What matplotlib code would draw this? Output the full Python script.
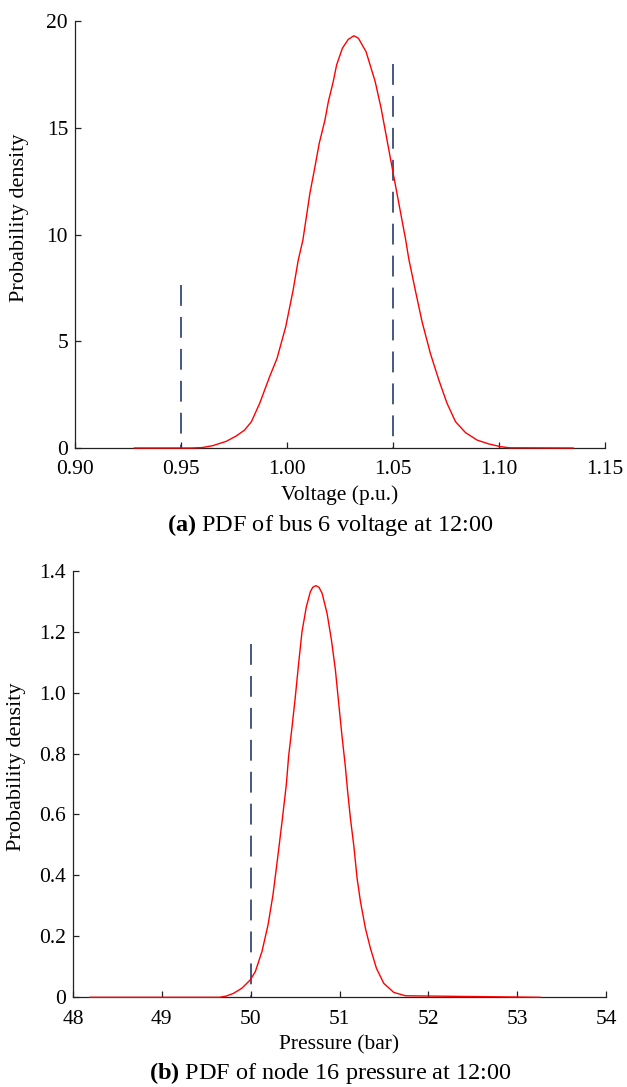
import matplotlib
matplotlib.use("Agg")
import matplotlib.pyplot as plt

plt.rcParams['font.family'] = ['Liberation Serif', 'DejaVu Serif']
plt.rcParams['mathtext.fontset'] = 'custom'
plt.rcParams['mathtext.rm'] = 'Liberation Serif'
plt.rcParams['mathtext.bf'] = 'Liberation Serif:bold'
plt.rcParams['lines.scale_dashes'] = False

# ---- Panel (a): bus 6 voltage PDF ----
volt_x = [0.928, 0.955, 0.960, 0.965, 0.9713, 0.976, 0.980, 0.9832, 0.9871, 0.9918,
          0.9953, 0.9994, 1.0029, 1.0053, 1.0075, 1.0108, 1.0132, 1.0152, 1.0179, 1.0195,
          1.0218, 1.0234, 1.0261, 1.0289, 1.0316, 1.0337, 1.0373, 1.0416, 1.0444, 1.0479,
          1.0495, 1.0526, 1.0560, 1.0574, 1.0605, 1.0637, 1.0676, 1.0716, 1.0755, 1.0795,
          1.0842, 1.0897, 1.0952, 1.1008, 1.105, 1.135]
volt_pdf = [0, 0, 0.02, 0.11, 0.31, 0.56, 0.84, 1.23, 2.09, 3.34,
            4.20, 5.68, 7.40, 8.80, 9.74, 11.93, 13.18, 14.27, 15.36, 16.22,
            17.16, 17.94, 18.72, 19.14, 19.31, 19.19, 18.56, 17.16, 15.91, 14.04,
            13.18, 11.54, 9.74, 8.88, 7.40, 5.92, 4.44, 3.19, 2.09, 1.23,
            0.72, 0.37, 0.19, 0.06, 0.01, 0]
volt_limits = [0.95, 1.05]
volt_limit_heights = [7.65, 18.0]
volt_xticks = [0.90, 0.95, 1.00, 1.05, 1.10, 1.15]
volt_xticklabels = ['0.90', '0.95', '1.00', '1.05', '1.10', '1.15']
volt_yticks = [0, 5, 10, 15, 20]

# ---- Panel (b): node 16 pressure PDF ----
pres_x = [48.19, 49.65, 49.725, 49.807, 49.902, 49.995, 50.052, 50.127, 50.195, 50.251,
          50.303, 50.353, 50.401, 50.427, 50.466, 50.503, 50.540, 50.578, 50.627, 50.672,
          50.70, 50.736, 50.77, 50.804, 50.860, 50.909, 50.954, 50.991, 51.029, 51.066,
          51.090, 51.123, 51.160, 51.198, 51.236, 51.292, 51.348, 51.416, 51.498, 51.611,
          51.743, 53.26]
pres_pdf = [0, 0, 0.004, 0.013, 0.030, 0.057, 0.084, 0.150, 0.237, 0.336,
            0.456, 0.576, 0.697, 0.790, 0.888, 0.987, 1.096, 1.200, 1.282, 1.331,
            1.346, 1.351, 1.345, 1.326, 1.260, 1.173, 1.074, 0.965, 0.855, 0.757,
            0.680, 0.587, 0.500, 0.391, 0.314, 0.226, 0.161, 0.095, 0.046, 0.016,
            0.005, 0]
pres_limits = [50.0]
pres_limit_heights = [1.16]
pres_xticks = [48, 49, 50, 51, 52, 53, 54]
pres_yticks = [0, 0.2, 0.4, 0.6, 0.8, 1.0, 1.2, 1.4]
pres_yticklabels = ['0', '0.2', '0.4', '0.6', '0.8', '1.0', '1.2', '1.4']

W, H = 627, 1087
fig = plt.figure(figsize=(W / 100, H / 100), dpi=100)

def px_axes(l, r, t, b):
    return fig.add_axes([l / W, 1 - b / H, (r - l) / W, (b - t) / H])

ax1 = px_axes(75, 605, 21, 448)
ax2 = px_axes(73, 606, 570.7, 997.3)

RED = '#ff0000'
NAVY = '#132a60'
DASH = (15, 8)
TICK_FS = 15.5
LABEL_FS = 15.5
YLABEL_FS = 16
CAP_FS = 17.5

def style(ax):
    for s in ['top', 'right']:
        ax.spines[s].set_visible(False)
    for s in ['left', 'bottom']:
        ax.spines[s].set_linewidth(0.9)
        ax.spines[s].set_color('#222222')
    ax.tick_params(direction='in', length=4.5, width=0.9, labelsize=TICK_FS,
                   color='#222222', labelcolor='black')
    ax.tick_params(axis='x', pad=9)
    ax.tick_params(axis='y', pad=5)

# Panel a
ax1.plot(volt_x, volt_pdf, color=RED, lw=1.0, clip_on=False, zorder=4)
for xv, hv in zip(volt_limits, volt_limit_heights):
    ax1.plot([xv, xv], [hv, 0], color=NAVY, lw=1.1, dashes=DASH, zorder=3)
ax1.set_xlim(0.90, 1.15)
ax1.set_ylim(0, 20)
ax1.set_xticks(volt_xticks)
ax1.set_xticklabels(volt_xticklabels)
ax1.set_yticks(volt_yticks)
style(ax1)
ax1.set_xlabel('Voltage (p.u.)', fontsize=LABEL_FS, labelpad=4.5)
ax1.set_ylabel('Probability density', fontsize=YLABEL_FS)
ax1.yaxis.set_label_coords(-0.087, 0.54)

# Panel b
ax2.plot(pres_x, pres_pdf, color=RED, lw=1.0, clip_on=False, zorder=4)
for xv, hv in zip(pres_limits, pres_limit_heights):
    ax2.plot([xv, xv], [hv, 0], color=NAVY, lw=1.1, dashes=DASH, zorder=3)
ax2.set_xlim(48, 54)
ax2.set_ylim(0, 1.4)
ax2.set_xticks(pres_xticks)
ax2.set_yticks(pres_yticks)
ax2.set_yticklabels(pres_yticklabels)
style(ax2)
ax2.set_xlabel('Pressure (bar)', fontsize=LABEL_FS, labelpad=4.5)
ax2.set_ylabel('Probability density', fontsize=YLABEL_FS)
ax2.yaxis.set_label_coords(-0.088, 0.54)

fig.text(330 / W, 1 - 525 / H, r'$\mathbf{(a)}$ PDF of bus 6 voltage at 12:00',
         ha='center', va='center', fontsize=CAP_FS)
fig.text(330 / W, 1 - 1073 / H, r'$\mathbf{(b)}$ PDF of node 16 pressure at 12:00',
         ha='center', va='center', fontsize=CAP_FS)

fig.savefig('out.png', dpi=100)
